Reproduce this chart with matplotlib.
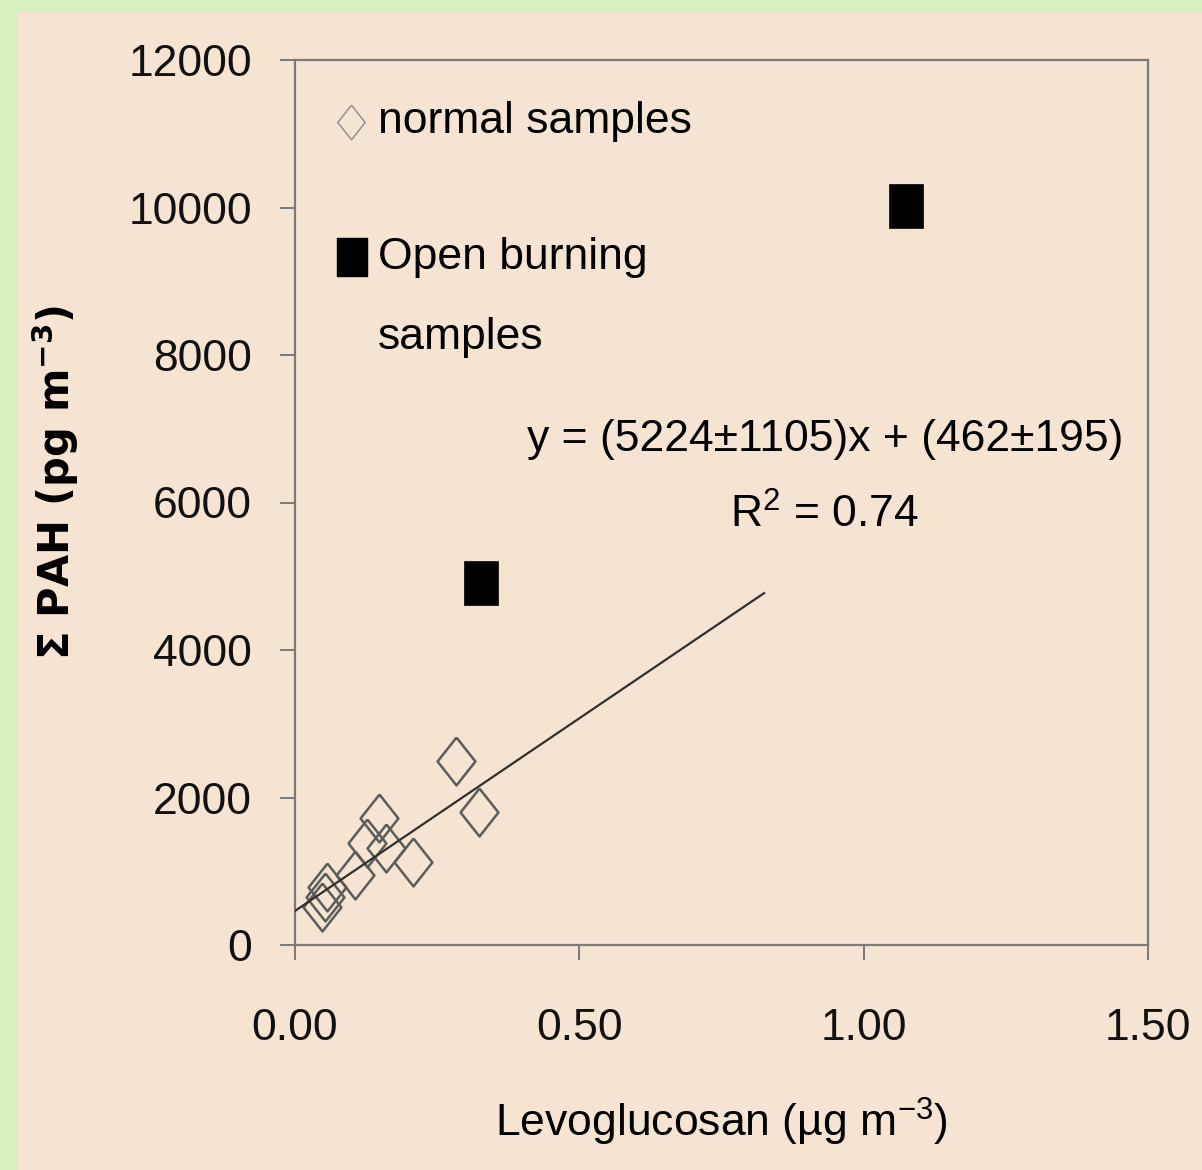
import matplotlib
matplotlib.use("Agg")
import matplotlib.pyplot as plt
from matplotlib.patches import Rectangle
from matplotlib import font_manager
import numpy as np

# font: narrow sans if present
names = set(f.name for f in font_manager.fontManager.ttflist)
FONT = "Liberation Sans Narrow" if "Liberation Sans Narrow" in names else "Liberation Sans"
plt.rcParams["font.family"] = [FONT, "DejaVu Sans"]
plt.rcParams["mathtext.fontset"] = "custom"
plt.rcParams["mathtext.rm"] = FONT
plt.rcParams["mathtext.bf"] = "DejaVu Sans:bold"

# data
normal_x = [0.047, 0.053, 0.056, 0.106, 0.127, 0.148, 0.160, 0.207, 0.283, 0.324]
normal_y = [515, 650, 790, 950, 1385, 1720, 1315, 1125, 2500, 1800]
burning_x = [0.327, 1.074]
burning_y = [4910, 10020]
slope, intercept = 5224, 462
fit_x = [0.0, 0.825]

x_ticks = [0.0, 0.5, 1.0, 1.5]
x_ticklabels = ["0.00", "0.50", "1.00", "1.50"]
y_ticks = [0, 2000, 4000, 6000, 8000, 10000, 12000]

GREEN = "#d9efbe"
BEIGE = "#f4e4d1"
GRAY = "#5c5c5c"
TS = 32  # text size

diamond = [(0, 1), (0.79, 0), (0, -1), (-0.79, 0), (0, 1)]
square = [(-0.78, -1), (0.78, -1), (0.78, 1), (-0.78, 1), (-0.78, -1)]

fig = plt.figure(figsize=(12.02, 11.70), dpi=100, facecolor=GREEN)
fig.patches.append(Rectangle((18 / 1202, 0), 1, (1170 - 12) / 1170,
                             transform=fig.transFigure, facecolor=BEIGE,
                             edgecolor="none", zorder=-5))

ax = fig.add_axes([295 / 1202, 1 - 945 / 1170, (1148 - 295) / 1202, (945 - 60) / 1170])
ax.set_facecolor(BEIGE)
ax.set_zorder(1)

# fit line
fx = np.array(fit_x)
ax.plot(fx, slope * fx + intercept, color="#303030", lw=1.6, zorder=3)

ax.plot(normal_x, normal_y, linestyle="none", marker=diamond, ms=34.5,
        mfc="none", mec=GRAY, mew=1.8, zorder=2)
ax.plot(burning_x, burning_y, linestyle="none", marker=square, ms=31.5,
        mfc="black", mec="black", mew=0.5, zorder=4)

ax.set_xlim(0, 1.5)
ax.set_ylim(0, 12000)
ax.set_xticks(x_ticks)
ax.set_xticklabels(x_ticklabels)
ax.set_yticks(y_ticks)

for s in ax.spines.values():
    s.set_color("#7a7a7a")
    s.set_linewidth(1.6)
ax.tick_params(axis="both", direction="out", length=11, width=1.4,
               color="#7a7a7a", labelsize=TS, labelcolor="#111111")
ax.tick_params(axis="y", pad=20)
ax.tick_params(axis="x", pad=34)

ax.set_xlabel("Levoglucosan (µg m$^{-3}$)", fontsize=TS, labelpad=34)
fig.text(55 / 1202, 1 - 482 / 1170, r"Σ PAH (pg m$^{\mathbf{-3}}$)", rotation=90,
         fontsize=30, fontweight="bold", family=["DejaVu Sans"],
         ha="center", va="center")

# equation
fig.text(825 / 1202, 1 - 440 / 1170, "y = (5224±1105)x + (462±195)",
         fontsize=TS, ha="center", va="center")
fig.text(825 / 1202, 1 - 515 / 1170, "R$^{2}$ = 0.74",
         fontsize=TS, ha="center", va="center")

# legend drawn by hand
ax.plot([0.0657], [0.93], transform=ax.transAxes, marker=diamond, ms=25,
        mfc="none", mec="#8a8a8a", mew=1.0, clip_on=False)
ax.plot([0.0668], [0.777], transform=ax.transAxes, marker=square, ms=27,
        mfc="black", mec="black", clip_on=False)
fig.text(378 / 1202, 1 - 122 / 1170, "normal samples", fontsize=TS, va="center", zorder=5)
fig.text(378 / 1202, 1 - 258 / 1170, "Open burning", fontsize=TS, va="center", zorder=5)
fig.text(378 / 1202, 1 - 338 / 1170, "samples", fontsize=TS, va="center", zorder=5)

fig.savefig("out.png", dpi=100, facecolor=GREEN)
